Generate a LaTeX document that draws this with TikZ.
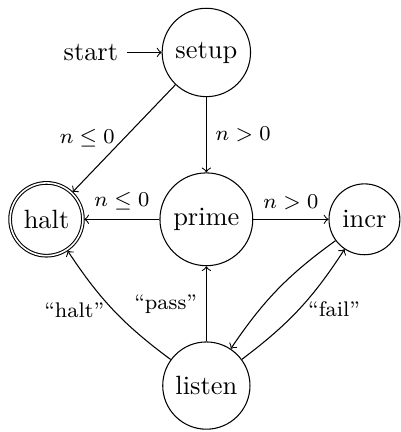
\documentclass[tikz,border=0pt]{standalone}
\usetikzlibrary{automata,positioning}
\begin{document}
\begin{tikzpicture}[
    ->,
    node distance=1cm,
    every state/.style={draw, circle},
    initial text=start
  ]
  % states
  \node[state] (prime) at (0,0) {prime};
  \node[state, initial, above=of prime] (setup) {setup};
  \node[state, accepting, left=of prime] (halt) {halt};
  \node[state, right=of prime] (incr) {incr};
  \node[state, below=of prime] (listen) {listen};

  % transitions
  \draw (setup) -- node[left] {\footnotesize $n \le 0$} (halt);
  \draw (setup) -- node[right] {\footnotesize $n > 0$} (prime);
  \draw (prime) -- node[above] {\footnotesize $n \le 0$} (halt);
  \draw (prime) -- node[above] {\footnotesize $n > 0$} (incr);
  \draw (listen) to[bend left=10] node[left] {\footnotesize ``halt''} (halt);
  \draw (listen) -- node[left] {\footnotesize ``pass''} (prime);
  \draw (listen) to[bend right=10] node[right] {\footnotesize ``fail''} (incr);
  \draw (incr) to[bend right=10] (listen);

  % page frame
  \pgfresetboundingbox
  \path[use as bounding box] (-78.1pt,-80.5pt) rectangle (73.3pt,83pt);
\end{tikzpicture}
\end{document}
